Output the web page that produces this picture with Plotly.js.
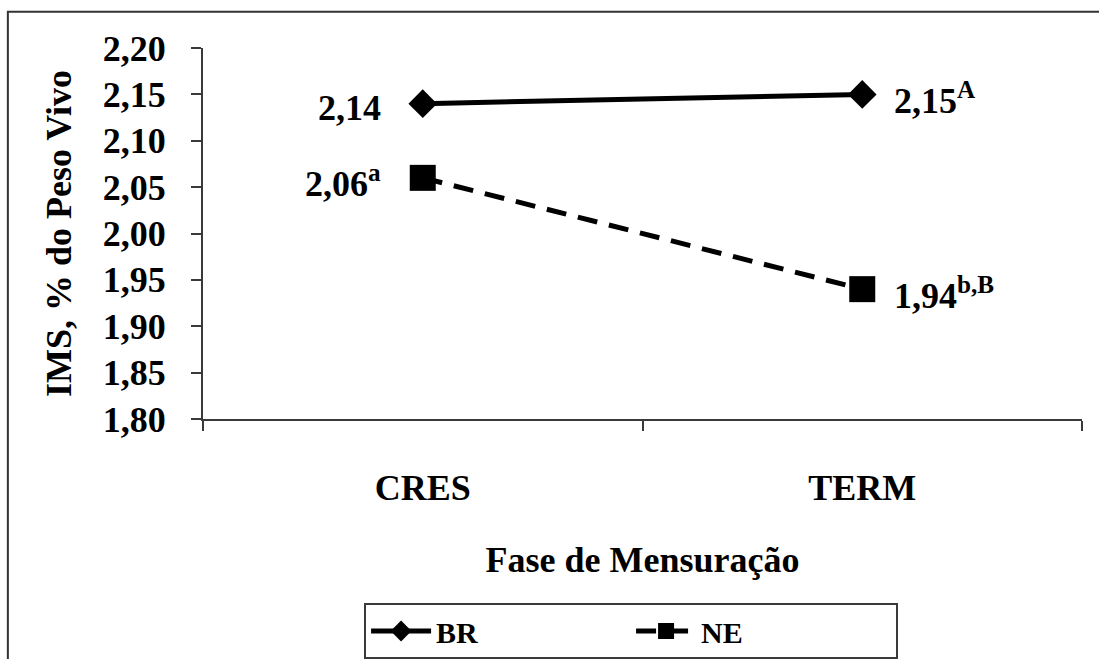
<!DOCTYPE html>
<html>
<head>
<meta charset="utf-8">
<script src="https://cdn.plot.ly/plotly-3.0.1.min.js"></script>
<style>
  html, body { margin: 0; padding: 0; background: #fff; }
  #chart { width: 1099px; height: 659px; }
</style>
</head>
<body>
<div id="chart"></div>
<script>
// categories and values
const fases = ['CRES', 'TERM']
const brValues = [2.14, 2.15]
const neValues = [2.06, 1.94]
const brSuffix = ['', 'A']
const neSuffix = ['a', 'b,B']
const yTicks = [1.80, 1.85, 1.90, 1.95, 2.00, 2.05, 2.10, 2.15, 2.20]

const fmt = v => v.toFixed(2).replace('.', ',')
const bold = s => '<b>' + s + '</b>'
const axisColor = '#3a3a3a'
const serifFont = (size = 36) => ({family: 'Liberation Serif', size: size, color: '#000'})

const brTrace = {
    x: fases,
    y: brValues,
    type: 'scatter',
    mode: 'lines+markers',
    name: bold('BR'),
    line: {color: '#000', width: 5},
    marker: {symbol: 'diamond', size: 22, color: '#000'},
    hoverinfo: 'skip'
}

const neTrace = {
    x: fases,
    y: neValues,
    type: 'scatter',
    mode: 'lines+markers',
    name: bold('NE'),
    line: {color: '#000', width: 5, dash: '20px,12px'},
    marker: {symbol: 'square', size: 26, color: '#000'},
    hoverinfo: 'skip'
}

// value labels: first point sits left of the marker, second right of it
const annotations = []
const addLabels = (values, suffix) => {
    values.forEach((v, i) => {
        const sup = suffix[i] ? '<sup>' + suffix[i] + '</sup>' : ''
        annotations.push({
            x: fases[i],
            y: v,
            xref: 'x',
            yref: 'y',
            text: bold(fmt(v) + sup),
            showarrow: false,
            xanchor: i === 0 ? 'right' : 'left',
            xshift: i === 0 ? -40 : 30,
            yshift: -4,
            font: serifFont()
        })
    })
}
addLabels(brValues, brSuffix)
addLabels(neValues, neSuffix)

const layout = {
    width: 1099,
    height: 659,
    margin: {l: 203, r: 17, t: 48, b: 240, autoexpand: false},
    paper_bgcolor: '#fff',
    plot_bgcolor: '#fff',
    font: serifFont(),
    showlegend: true,
    xaxis: {
        type: 'category',
        range: [-0.5, 1.5],
        tickvals: fases,
        ticktext: fases.map(bold),
        showgrid: false,
        zeroline: false,
        showline: true,
        linecolor: axisColor,
        linewidth: 2,
        ticks: 'outside',
        tickson: 'boundaries',
        ticklen: 10,
        tickwidth: 2,
        tickcolor: axisColor,
        ticklabelstandoff: 36,
        tickfont: serifFont(),
        title: {text: bold('Fase de Mensuração'), standoff: 40, font: serifFont()},
        fixedrange: true
    },
    yaxis: {
        range: [1.80, 2.20],
        tickvals: yTicks,
        ticktext: yTicks.map(v => bold(fmt(v))),
        showgrid: false,
        zeroline: false,
        showline: true,
        linecolor: axisColor,
        linewidth: 2,
        ticks: 'outside',
        ticklen: 10,
        tickwidth: 2,
        tickcolor: axisColor,
        ticklabelstandoff: 18,
        tickfont: serifFont(),
        title: {text: bold('IMS, % do Peso Vivo'), standoff: 20, font: serifFont()},
        fixedrange: true
    },
    legend: {
        orientation: 'h',
        x: 0.487,
        xanchor: 'center',
        y: -0.496,
        yanchor: 'top',
        bgcolor: '#fff',
        bordercolor: axisColor,
        borderwidth: 2,
        itemwidth: 60,
        entrywidth: 190,
        font: serifFont(30)
    },
    shapes: [{
        // outer frame of the figure
        type: 'rect',
        xref: 'paper',
        yref: 'paper',
        x0: -0.222,
        x1: 1.05,
        y0: -0.7,
        y1: 1.098,
        line: {color: '#333', width: 2},
        fillcolor: 'rgba(0,0,0,0)',
        layer: 'below'
    }],
    annotations: annotations
}

Plotly.newPlot('chart', [brTrace, neTrace], layout, {displayModeBar: false, staticPlot: true})
</script>
</body>
</html>
